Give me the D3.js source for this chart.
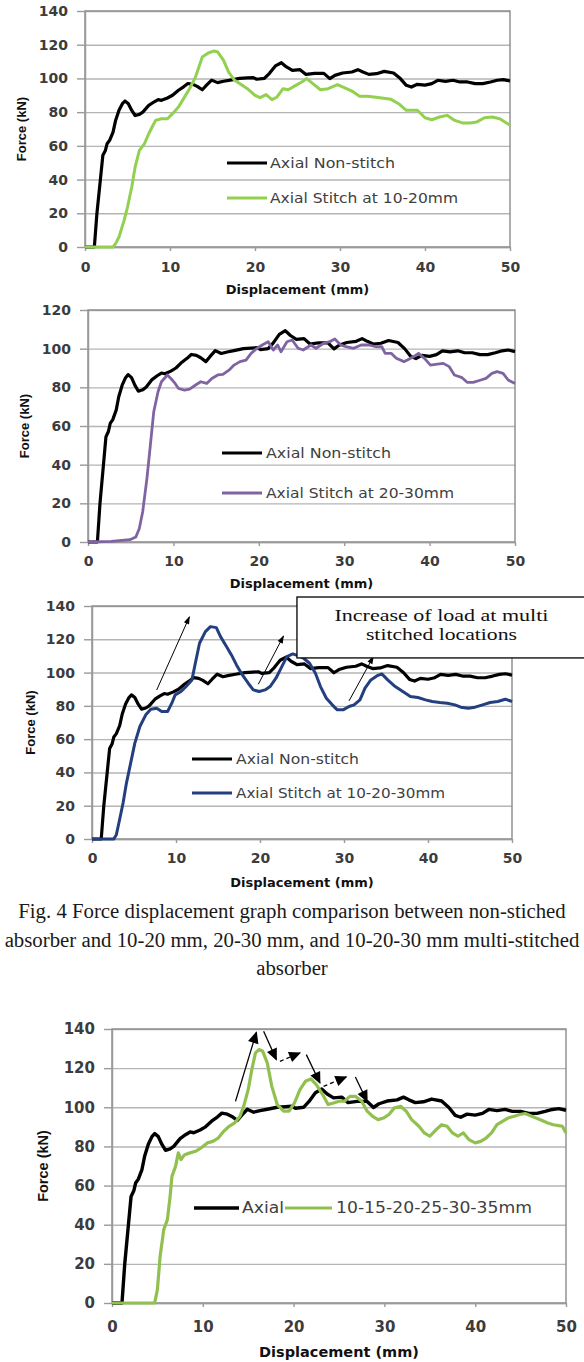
<!DOCTYPE html>
<html>
<head>
<meta charset="utf-8">
<script src="https://cdn.jsdelivr.net/npm/d3@7"></script>
<style>
  body { margin: 0; background: #fff; }
  svg { display: block; }
</style>
</head>
<body>
<svg width="584" height="1362"></svg>
<script>
// ---- data (displacement mm, force kN) ----
const xTicks = [0, 10, 20, 30, 40, 50];
const yTicks140 = [0, 20, 40, 60, 80, 100, 120, 140];
const yTicks120 = [0, 20, 40, 60, 80, 100, 120];

const axialNonStitch = [
  [0,0],[1.1,0],[1.4,19.8],[1.8,39.5],[2.1,54.4],[2.4,57.3],[2.6,61.3],[2.9,63.3],[3.3,68.2],[3.6,75.1],
  [4.0,81.1],[4.4,85],[4.7,86.6],[5.1,85],[5.5,81],[5.9,78],[6.4,78.7],[6.8,80],[7.5,84],[8.1,86],
  [8.6,87.4],[9.0,87],[9.7,88.4],[10.3,90],[11.0,93],[11.6,95],[12.1,97],[12.7,96.5],[13.2,95.3],[13.8,93.3],
  [14.3,96],[14.9,99],[15.6,97.5],[16.3,98.3],[17.1,99],[18.2,100],[19.1,100.3],[19.8,100.5],[20.2,99.5],[21.1,100],
  [21.7,103],[22.4,107.4],[23.1,109.3],[23.7,106.8],[24.4,104.8],[25.3,105.2],[26.0,102.4],[27.0,103],[28.1,103],[28.8,99.9],
  [29.4,101.8],[30.3,103.2],[31.4,103.8],[32.1,105.2],[32.7,103.8],[33.4,102.4],[34.3,102.8],[35.2,104.2],[36.3,103.2],[37.1,99.9],
  [37.8,95.9],[38.4,94.9],[39.1,96.5],[40.0,96],[40.8,96.9],[41.5,98.9],[42.4,98.3],[43.3,98.9],[44.1,97.9],[45.0,97.9],
  [45.9,96.9],[46.8,96.9],[47.7,97.9],[48.5,98.9],[49.2,99.3],[50,98.5]
];

const stitch1020 = [
  [0,0],[3.3,0],[3.6,2],[4.0,5.9],[4.6,15.8],[5.0,23.7],[5.5,35.6],[5.9,47.5],[6.4,57.3],[7.0,61.3],
  [7.5,67.2],[7.9,71.2],[8.3,75.1],[9.0,76.1],[9.7,76.1],[10.3,79.1],[11.0,83.1],[11.6,88],[12.3,93.9],[13.0,100.8],
  [13.4,106.8],[13.8,112.7],[14.5,115.1],[15.2,116.3],[15.6,115.7],[16.3,110.7],[16.9,103.8],[17.6,98.9],[18.5,95.9],[19.1,93.9],
  [20.0,90],[20.6,88.6],[21.3,90.4],[22.0,87.4],[22.6,89],[23.3,93.9],[23.9,93.3],[24.8,95.9],[25.5,97.9],[26.1,99.9],
  [26.8,96.9],[27.7,93.3],[28.6,93.9],[29.7,96.3],[30.5,94.5],[31.4,92.5],[32.3,89.4],[33.2,89.4],[34.0,89],[34.9,88.4],
  [36.0,87.6],[36.9,85],[37.8,81.1],[38.4,81.1],[39.1,81.1],[40.0,76.7],[40.8,75.5],[41.7,77.1],[42.6,78.1],[43.5,75.1],
  [44.4,73.6],[45.3,73.6],[46.1,74.2],[47.0,76.7],[47.9,77.1],[48.8,76.1],[49.4,74.2],[50,72.2]
];

const stitch2030 = [
  [0,0],[2.7,0.3],[4.9,1.2],[5.6,2.6],[6.0,6.9],[6.4,15.5],[6.9,32.8],[7.3,50],[7.7,67.4],[8.2,77.7],
  [8.6,82.9],[9.3,86.4],[9.7,84.6],[10.2,82],[10.6,79.4],[11.3,78.6],[11.9,79.1],[12.6,81.2],[13.2,82.9],[13.9,82],
  [14.5,84.6],[15.2,86.4],[15.8,86.7],[16.5,88.9],[17.1,91.5],[17.8,93.3],[18.5,94.1],[19.1,97.6],[19.8,100.2],[20.4,101.9],
  [21.1,103.6],[21.7,99.3],[22.2,101.9],[22.6,98.4],[23.3,103.6],[23.9,104.5],[24.6,100.2],[25.2,99.3],[26.1,101.9],[26.7,100.2],
  [27.6,102.8],[28.3,103.6],[28.9,105],[29.6,101.9],[30.2,101],[31.1,100.2],[32.0,101.9],[32.9,101.9],[33.7,101],[34.4,101],
  [34.8,97.6],[35.5,97.6],[36.1,95],[37.0,93.3],[37.4,94.1],[38.1,95.8],[38.7,97.6],[39.4,95],[40.1,91.5],[40.7,91.9],
  [41.6,92.4],[42.3,90.7],[42.9,86.4],[43.8,85],[44.4,82.6],[45.1,82.6],[46.0,83.8],[46.6,84.6],[47.3,87.2],[47.9,88.1],
  [48.6,87.2],[49.2,83.8],[50,82]
];

const stitch102030 = [
  [0,0],[2.6,0],[2.9,2.6],[3.2,9.6],[3.7,21.6],[4.1,33.6],[4.6,45.6],[5.1,57.6],[5.7,67.6],[6.4,74.6],
  [7.0,78],[7.7,78.6],[8.3,76.6],[9.0,76.6],[9.5,81.6],[9.9,86.6],[10.6,88.6],[11.2,91.6],[11.9,95.6],[12.3,105.6],
  [12.8,117.6],[13.5,124.6],[14.1,127.6],[14.8,127],[15.3,121.6],[15.9,116.6],[16.6,110.6],[17.2,104.6],[17.9,98.6],[18.6,93.6],
  [19.2,89.6],[19.9,88.6],[20.6,89.6],[21.2,91.6],[21.9,96.6],[22.6,103.6],[23.2,109.6],[23.9,111.2],[24.6,110],[25.2,108.6],
  [25.9,105.6],[26.6,99.6],[27.2,91.6],[27.9,84.6],[28.6,80.6],[29.2,77.6],[29.9,77.6],[30.6,79.6],[31.2,80.6],[31.9,83.6],
  [32.5,90.6],[33.2,95.6],[33.9,98],[34.5,99.2],[35.2,95.6],[36.1,91.6],[37.0,88.6],[37.9,85.6],[38.8,85],[39.7,83.6],
  [40.5,82.6],[41.4,82],[42.3,81.6],[43.2,80.6],[43.9,79.2],[44.8,78.6],[45.6,79.2],[46.5,80.6],[47.4,82],[48.3,82.6],
  [49.2,84],[50,82.6]
];

const stitchMulti = [
  [0,0],[4.7,0],[5.0,6.8],[5.3,23.9],[5.7,37.5],[6.1,42.6],[6.4,54.5],[6.6,64.7],[7.0,69.8],[7.3,76.7],
  [7.6,73.3],[8.0,75.8],[8.6,76.7],[9.2,77.5],[9.8,79.2],[10.5,81.8],[11.1,82.6],[11.7,84.3],[12.3,87.7],[12.9,90.3],
  [13.5,92],[14.1,95.4],[14.5,100.5],[15.0,109],[15.4,119.3],[15.8,127.8],[16.2,129.5],[16.6,128.6],[17.1,122.7],[17.6,110.7],
  [18.2,101.4],[18.9,98],[19.5,98],[20.1,102.2],[20.7,109],[21.3,113.3],[21.9,114.5],[22.5,111.6],[23.2,106.5],[23.8,101.4],
  [24.4,102.2],[25.0,103.1],[25.6,103.1],[26.2,105.6],[26.8,105.6],[27.5,103.1],[28.1,98],[28.7,95.4],[29.3,93.7],[29.9,94.5],
  [30.5,96.3],[31.1,99.7],[31.8,100.5],[32.4,98],[33.0,93.7],[33.8,90.3],[34.4,86.9],[35.0,85.2],[35.7,88.6],[36.3,91.1],
  [36.9,90.3],[37.5,86.9],[38.1,85.2],[38.7,86.9],[39.3,83.5],[40.0,81.8],[40.6,82.6],[41.2,84.3],[41.8,86.9],[42.4,91.1],
  [43.0,92.8],[43.6,94.5],[44.3,95.4],[44.9,96.3],[45.5,96.8],[46.1,95.7],[46.7,94.5],[47.3,93.4],[48.0,92],[48.6,91.1],
  [49.2,90.6],[49.6,90.3],[50,86.9]
];

// annotation arrows [from, to] in data units
const arrows3 = [[[7.7,89.5],[11.6,133.5]], [[19.8,93],[22.8,122]], [[30.6,83],[33.5,109.6]]];
const arrows4 = [
  [[13.6,103],[15.9,138.3]], [[16.7,138.8],[18.1,124.4]], [[18.5,123.5],[20.7,127.8]],
  [[21.4,126.9],[22.9,112.4]], [[23.3,110.7],[25.8,115.5]], [[26.8,115.5],[28.1,103]]
];
const calloutLines = ['Increase of load at multi', 'stitched locations'];
const captionLines = [
  'Fig. 4 Force displacement graph comparison between non-stiched',
  'absorber and 10-20 mm, 20-30 mm, and 10-20-30 mm multi-stitched',
  'absorber'
];

// ---- layout ----
const panels = [
  { left: 85, right: 510, top: 11, bottom: 247, yMax: 140, yTicks: yTicks140, fs: 14,
    yTitleX: 21, xLabelY: 267, xTitleY: 289, titleFs: 13,
    series: [
      { data: axialNonStitch, color: '#000', width: 3.2, label: 'Axial Non-stitch', lx: 227, ly: 163, len: 40, tx: 270, tl: 125 },
      { data: stitch1020, color: '#92D050', width: 3, label: 'Axial Stitch at 10-20mm', lx: 227, ly: 198, len: 40, tx: 270, tl: 188 }
    ] },
  { left: 88, right: 515, top: 310, bottom: 542, yMax: 120, yTicks: yTicks120, fs: 14,
    yTitleX: 24, xLabelY: 561, xTitleY: 583, titleFs: 13,
    series: [
      { data: axialNonStitch, color: '#000', width: 3.2, label: 'Axial Non-stitch', lx: 222, ly: 453, len: 40, tx: 266, tl: 125 },
      { data: stitch2030, color: '#8064A2', width: 2.8, label: 'Axial Stitch at 20-30mm', lx: 222, ly: 493, len: 40, tx: 266, tl: 188 }
    ] },
  { left: 92, right: 512, top: 606, bottom: 839, yMax: 140, yTicks: yTicks140, fs: 14,
    yTitleX: 30, xLabelY: 858, xTitleY: 882, titleFs: 13,
    series: [
      { data: axialNonStitch, color: '#000', width: 3.2, label: 'Axial Non-stitch', lx: 192, ly: 759, len: 40, tx: 236, tl: 123 },
      { data: stitch102030, color: '#243F80', width: 3, label: 'Axial Stitch at 10-20-30mm', lx: 192, ly: 793, len: 40, tx: 236, tl: 209 }
    ],
    arrows: arrows3, head: 'thin' },
  { left: 112, right: 566, top: 1029, bottom: 1303, yMax: 140, yTicks: yTicks140, fs: 15,
    yTitleX: 43, xLabelY: 1327, xTitleY: 1352, titleFs: 14.5,
    series: [
      { data: axialNonStitch, color: '#000', width: 3.4, label: 'Axial', lx: 194, ly: 1208, len: 45, tx: 242, tl: 42 },
      { data: stitchMulti, color: '#92C050', width: 3.2, label: '10-15-20-25-30-35mm', lx: 285, ly: 1208, len: 47, tx: 336, tl: 196 }
    ],
    arrows: arrows4, head: 'bold' }
];

const svg = d3.select('svg');
svg.append('rect').attr('width', 584).attr('height', 1362).attr('fill', '#fff');

const defs = svg.append('defs');
defs.append('marker').attr('id', 'head-thin')
  .attr('viewBox', '0 0 10 10').attr('refX', 9).attr('refY', 5)
  .attr('markerUnits', 'userSpaceOnUse').attr('markerWidth', 10).attr('markerHeight', 8)
  .attr('orient', 'auto')
  .append('path').attr('d', 'M0,1.5 L10,5 L0,8.5 Z').attr('fill', '#000');
defs.append('marker').attr('id', 'head-bold')
  .attr('viewBox', '0 0 10 10').attr('refX', 9).attr('refY', 5)
  .attr('markerUnits', 'userSpaceOnUse').attr('markerWidth', 13).attr('markerHeight', 12)
  .attr('orient', 'auto')
  .append('path').attr('d', 'M0,0.5 L10,5 L0,9.5 Z').attr('fill', '#000');

const tickFont = '"DejaVu Sans", Verdana, sans-serif';
const gridColor = '#b5b5b5';
const axisColor = '#9a9a9a';

const drawPanel = (p, idx) => {
  const w = p.right - p.left;
  const h = p.bottom - p.top;
  const x = d3.scaleLinear().domain([0, 50]).range([0, w]);
  const y = d3.scaleLinear().domain([0, p.yMax]).range([h, 0]);

  const g = svg.append('g').attr('transform', `translate(${p.left},${p.top})`);

  // horizontal grid
  g.append('g')
    .call(d3.axisLeft(y).tickValues(p.yTicks).tickSize(-w).tickFormat(''))
    .call(s => s.select('.domain').remove())
    .call(s => s.selectAll('line').attr('stroke', gridColor).attr('stroke-width', 1.4));

  // plot frame (top/right)
  g.append('rect').attr('width', w).attr('height', h)
    .attr('fill', 'none').attr('stroke', '#8a8a8a').attr('stroke-width', 1.4);

  // y axis
  const yAxisG = g.append('g')
    .call(d3.axisLeft(y).tickValues(p.yTicks).tickSize(8).tickSizeOuter(0).tickPadding(9));
  yAxisG.select('.domain').attr('stroke', axisColor).attr('stroke-width', 1.5);
  yAxisG.selectAll('line').attr('stroke', axisColor).attr('stroke-width', 1.4);
  yAxisG.selectAll('text')
    .attr('font-family', tickFont).attr('font-size', p.fs).attr('font-weight', 'bold').attr('fill', '#3c3c3c');

  // x axis
  const xAxisG = g.append('g').attr('transform', `translate(0,${h})`)
    .call(d3.axisBottom(x).tickValues(xTicks).tickSize(4).tickSizeOuter(0).tickPadding(0));
  xAxisG.select('.domain').attr('stroke', axisColor).attr('stroke-width', 1.5);
  xAxisG.selectAll('line').attr('stroke', axisColor).attr('stroke-width', 1.4);
  xAxisG.selectAll('text')
    .attr('y', p.xLabelY - p.bottom).attr('dy', '0.36em')
    .attr('font-family', tickFont).attr('font-size', p.fs).attr('font-weight', 'bold').attr('fill', '#3c3c3c');

  // axis titles
  g.append('text')
    .attr('x', w / 2).attr('y', p.xTitleY - p.top).attr('dy', '0.36em')
    .attr('text-anchor', 'middle')
    .attr('font-family', tickFont).attr('font-weight', 'bold').attr('font-size', p.titleFs)
    .attr('fill', '#111')
    .text('Displacement  (mm)');

  g.append('text')
    .attr('transform', `translate(${p.yTitleX - p.left},${h / 2}) rotate(-90)`)
    .attr('dy', '0.36em')
    .attr('text-anchor', 'middle')
    .attr('font-family', '"Liberation Sans", Arial, sans-serif').attr('font-weight', 'bold')
    .attr('font-size', p.titleFs).attr('fill', '#111')
    .text('Force (kN)');

  // series
  const line = d3.line().x(d => x(d[0])).y(d => y(d[1]));
  p.series.forEach(s => {
    g.append('path').datum(s.data)
      .attr('d', line)
      .attr('fill', 'none')
      .attr('stroke', s.color)
      .attr('stroke-width', s.width)
      .attr('stroke-linejoin', 'round');
  });

  // legend
  p.series.forEach(s => {
    svg.append('line')
      .attr('x1', s.lx).attr('x2', s.lx + s.len).attr('y1', s.ly).attr('y2', s.ly)
      .attr('stroke', s.color).attr('stroke-width', s.width);
    svg.append('text')
      .attr('x', s.tx).attr('y', s.ly).attr('dy', '0.36em')
      .attr('font-family', tickFont).attr('font-size', p.fs)
      .attr('fill', '#404040')
      .attr('textLength', s.tl).attr('lengthAdjust', 'spacingAndGlyphs')
      .text(s.label);
  });

  // annotation arrows
  if (p.arrows) {
    g.selectAll('.arrow').data(p.arrows).enter().append('line')
      .attr('class', 'arrow')
      .attr('x1', d => x(d[0][0])).attr('y1', d => y(d[0][1]))
      .attr('x2', d => x(d[1][0])).attr('y2', d => y(d[1][1]))
      .attr('stroke', '#000')
      .attr('stroke-width', p.head === 'bold' ? 1.3 : 1)
      .attr('stroke-dasharray', (d, i) => (p.head === 'bold' && (i === 2 || i === 4)) ? '4,3' : null)
      .attr('marker-end', `url(#head-${p.head})`);
  }

  // callout box on the multi stitched chart
  if (idx === 2) {
    const bx = x(24.4), by = y(145.4), bb = y(108.8);
    g.append('rect')
      .attr('x', bx).attr('y', by)
      .attr('width', 600 - p.left - bx).attr('height', bb - by)
      .attr('fill', '#fff').attr('stroke', '#000').attr('stroke-width', 1.3);
    const cx = x(41.6);
    const widths = [214, 151];
    calloutLines.forEach((t, i) => {
      g.append('text')
        .attr('x', cx).attr('y', by + 24 + i * 19)
        .attr('text-anchor', 'middle')
        .attr('font-family', '"Liberation Serif", "Times New Roman", serif')
        .attr('font-size', 16).attr('fill', '#111')
        .attr('textLength', widths[i]).attr('lengthAdjust', 'spacingAndGlyphs')
        .text(t);
    });
  }
};

panels.forEach(drawPanel);

// figure caption
svg.selectAll('.caption').data(captionLines).enter().append('text')
  .attr('class', 'caption')
  .attr('x', 292)
  .attr('y', (d, i) => 918 + i * 28.5)
  .attr('text-anchor', 'middle')
  .attr('font-family', '"Liberation Serif", "Times New Roman", serif')
  .attr('font-size', 20.8)
  .attr('fill', '#1a1a1a')
  .text(d => d);
</script>
</body>
</html>
